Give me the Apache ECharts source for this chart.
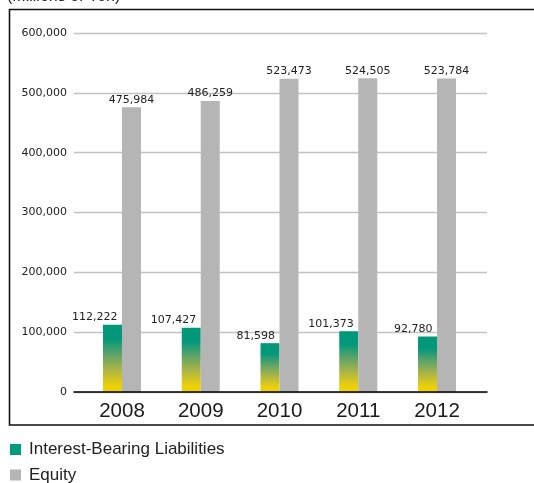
<!DOCTYPE html>
<html>
<head>
<meta charset="utf-8">
<script src="https://cdn.jsdelivr.net/npm/echarts@6/dist/echarts.min.js"></script>
<style>
  html, body { margin: 0; padding: 0; background: #fff; }
  #chart { width: 534px; height: 483px; }
</style>
</head>
<body>
<div id="chart"></div>
<script>
// Fiscal years and balances (millions of yen)
const years = ['2008', '2009', '2010', '2011', '2012'];
const liabilities = [112222, 107427, 81598, 101373, 92780];
const equity = [475984, 486259, 523473, 524505, 523784];
const yTicks = [0, 100000, 200000, 300000, 400000, 500000, 600000];

const seriesNames = ['Interest-Bearing Liabilities', 'Equity'];
const TEAL = '#009a7c';
const GREY = '#b4b5b4';

const chart = echarts.init(document.getElementById('chart'), null, { renderer: 'canvas' });

const fmt = v => v.toLocaleString('en-US');
const yMin = yTicks[0];
const yMax = yTicks[yTicks.length - 1];
const yStep = yTicks[1] - yTicks[0];

// teal at the top of each bar fading into yellow at the base
const liabGradient = new echarts.graphic.LinearGradient(0, 0, 0, 1, [
  { offset: 0, color: '#009779' },
  { offset: 0.22, color: '#04987a' },
  { offset: 0.45, color: '#62a468' },
  { offset: 0.68, color: '#b0b644' },
  { offset: 0.9, color: '#ead00a' },
  { offset: 1, color: '#f2d300' }
]);

// one legend block per row, stacked under the frame
const legendRow = (name, color, top) => ({
  orient: 'vertical',
  left: 10,
  top: top,
  padding: 0,
  itemWidth: 11,
  itemHeight: 11,
  icon: 'rect',
  selectedMode: false,
  textStyle: { fontFamily: 'Liberation Sans', fontSize: 17, color: '#222', padding: [0, 0, 0, 3] },
  data: [{ name: name, itemStyle: { color: color } }]
});

const option = {
  animation: false,
  backgroundColor: '#fff',
  textStyle: { fontFamily: 'DejaVu Sans' },
  graphic: [
    {
      type: 'text',
      left: 7,
      top: -11,
      style: { text: '(Millions of Yen)', font: '16px "Liberation Sans"', fill: '#222' }
    },
    {
      type: 'rect',
      shape: { x: 9.5, y: 9.5, width: 600, height: 415.5 },
      style: { fill: 'none', stroke: '#111', lineWidth: 1.6 },
      z: 10
    }
  ],
  legend: [
    legendRow(seriesNames[0], TEAL, 441),
    legendRow(seriesNames[1], GREY, 466.5)
  ],
  grid: [
    { left: 74, right: 47, top: 33, bottom: 91 },
    { left: 82.6, right: 57.6, top: 33, bottom: 91 }
  ],
  xAxis: [
    {
      gridIndex: 0, type: 'value', min: 0, max: 1, z: 5,
      axisLine: { show: true, lineStyle: { color: '#000', width: 1.6 } },
      axisTick: { show: false }, axisLabel: { show: false }, splitLine: { show: false }
    },
    {
      gridIndex: 1, type: 'category', data: years,
      axisLine: { show: false }, axisTick: { show: false }, splitLine: { show: false },
      axisLabel: { fontFamily: 'Liberation Sans', fontSize: 20.5, color: '#1a1a1a', margin: 9 }
    }
  ],
  yAxis: [
    {
      gridIndex: 0, type: 'value', min: yMin, max: yMax, interval: yStep,
      axisLine: { show: false }, axisTick: { show: false },
      axisLabel: { fontSize: 11, color: '#222', margin: 7, formatter: fmt },
      splitLine: { lineStyle: { color: '#c2c2c2', width: 1.3 } }
    },
    {
      gridIndex: 1, type: 'value', min: yMin, max: yMax, interval: yStep, show: false
    }
  ],
  series: [
    {
      name: seriesNames[0], type: 'bar', xAxisIndex: 1, yAxisIndex: 1,
      data: liabilities, barWidth: 19, barGap: '0%',
      itemStyle: { color: liabGradient },
      label: {
        show: true, position: 'top', align: 'right', offset: [5, 0], distance: 2,
        fontSize: 11, color: '#222', formatter: p => fmt(p.value)
      }
    },
    {
      name: seriesNames[1], type: 'bar', xAxisIndex: 1, yAxisIndex: 1,
      data: equity, barWidth: 19, barGap: '0%',
      itemStyle: { color: GREY },
      label: {
        show: true, position: 'top', distance: 2,
        fontSize: 11, color: '#222', formatter: p => fmt(p.value)
      }
    }
  ]
};

chart.setOption(option);
</script>
</body>
</html>
